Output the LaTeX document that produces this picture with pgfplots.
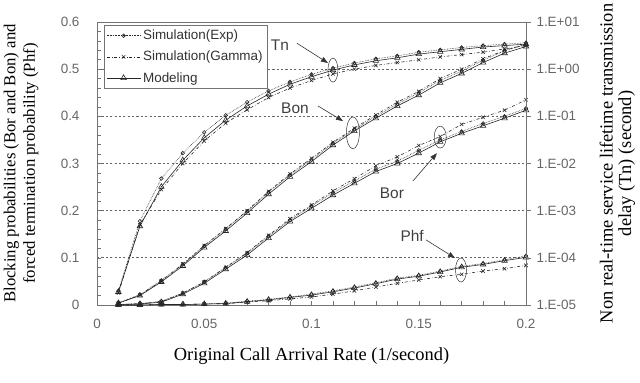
\documentclass[border=0pt]{standalone}
\usepackage{fontspec}
\setmainfont{Liberation Serif}
\newfontfamily\sans{Liberation Sans}
\usepackage{pgfplots}
\usepackage{pgfplotstable}
\pgfplotsset{compat=1.18}
\usetikzlibrary{arrows.meta}
\definecolor{axisgray}{gray}{0.45}
\definecolor{tickgray}{gray}{0.40}
\definecolor{gridgray}{gray}{0.40}

\pgfplotstableread{
x Mod Exp Gam
0.01 0.004 0.005 0.004
0.02 0.020 0.022 0.021
0.03 0.049 0.052 0.051
0.04 0.083 0.086 0.087
0.05 0.122 0.125 0.126
0.06 0.157 0.161 0.162
0.07 0.195 0.199 0.200
0.08 0.235 0.239 0.241
0.09 0.272 0.276 0.278
0.10 0.304 0.308 0.311
0.11 0.339 0.343 0.345
0.12 0.369 0.372 0.375
0.13 0.396 0.400 0.403
0.14 0.422 0.426 0.430
0.15 0.445 0.450 0.453
0.16 0.471 0.476 0.480
0.17 0.491 0.496 0.500
0.18 0.514 0.519 0.522
0.19 0.534 0.539 0.540
0.20 0.548 0.553 0.552
}\bon

\pgfplotstableread{
x Mod Exp Gam
0.01 0.001 0.001 0.001
0.02 0.002 0.003 0.003
0.03 0.006 0.008 0.007
0.04 0.023 0.025 0.025
0.05 0.046 0.049 0.049
0.06 0.076 0.079 0.080
0.07 0.106 0.110 0.111
0.08 0.142 0.146 0.148
0.09 0.177 0.180 0.183
0.10 0.205 0.210 0.212
0.11 0.233 0.238 0.242
0.12 0.258 0.263 0.268
0.13 0.283 0.288 0.295
0.14 0.300 0.305 0.314
0.15 0.322 0.328 0.338
0.16 0.346 0.350 0.357
0.17 0.364 0.368 0.383
0.18 0.380 0.385 0.398
0.19 0.396 0.400 0.413
0.20 0.413 0.417 0.435
}\bor

\pgfplotstableread{
x Mod Exp Gam
0.01 0.000 0.000 0.000
0.02 0.000 0.000 0.000
0.03 0.001 0.001 0.001
0.04 0.001 0.001 0.001
0.05 0.002 0.002 0.002
0.06 0.003 0.004 0.003
0.07 0.007 0.008 0.006
0.08 0.011 0.012 0.009
0.09 0.016 0.017 0.013
0.10 0.021 0.023 0.017
0.11 0.028 0.030 0.023
0.12 0.036 0.038 0.030
0.13 0.045 0.047 0.038
0.14 0.055 0.057 0.046
0.15 0.061 0.063 0.053
0.16 0.070 0.072 0.060
0.17 0.080 0.082 0.065
0.18 0.086 0.088 0.072
0.19 0.094 0.096 0.077
0.20 0.101 0.104 0.084
}\phf

\pgfplotstableread{
x Mod Exp Gam
0.01 1.9e-5 2.0e-5 1.8e-5
0.02 4.7e-4 6.0e-4 5.0e-4
0.03 3.2e-3 4.8e-3 2.8e-3
0.04 1.17e-2 1.66e-2 1.0e-2
0.05 3.5e-2 4.6e-2 3.0e-2
0.06 8.3e-2 0.105 7.2e-2
0.07 0.166 0.200 0.138
0.08 0.295 0.347 0.251
0.09 0.479 0.537 0.398
0.10 0.692 0.776 0.575
0.11 0.955 1.05 0.794
0.12 1.23 1.35 1.00
0.13 1.51 1.66 1.20
0.14 1.74 1.91 1.38
0.15 2.09 2.29 1.58
0.16 2.34 2.57 1.82
0.17 2.63 2.88 2.04
0.18 2.95 3.16 2.29
0.19 3.16 3.39 2.69
0.20 3.39 3.63 3.16
}\tn

\pgfplotsset{
  expstyle/.style={black!85, line width=0.6pt, densely dotted, mark=o, mark size=1.8bp, mark options={solid}},
  gamstyle/.style={black!85, line width=0.6pt, dash dot, mark=x, mark size=2.4bp, mark options={solid}},
  modstyle/.style={black!85, line width=0.6pt, solid, mark=triangle, mark size=3.2bp, mark options={solid}},
}

\begin{document}
\begin{tikzpicture}
\begin{axis}[
  at={(0,0)}, anchor=south west,
  scale only axis, width=429bp, height=283bp,
  xmin=0, xmax=0.2, ymin=0, ymax=0.6,
  xtick={0,0.05,0.1,0.15,0.2},
  ytick={0,0.1,0.2,0.3,0.4,0.5,0.6},
  minor x tick num=4, minor y tick num=4,
  xtick pos=bottom, ytick pos=left,
  tick align=inside,
  major tick length=4bp, minor tick length=4bp,
  every tick/.style={axisgray, line width=0.5pt},
  axis line style={axisgray, line width=0.8pt},
  /pgf/number format/assume math mode=true,
  /pgf/number format/fixed, /pgf/number format/precision=2,
  tick label style={font=\sans\fontsize{13.5}{15}\selectfont, text=tickgray},
  xticklabel style={yshift=-11bp},
  yticklabel style={xshift=-14bp},
  ymajorgrids,
  grid style={gridgray, line width=0.7pt, dash pattern=on 2.2pt off 2.2pt},
  xlabel={Original Call Arrival Rate (1/second)},
  xlabel style={font=\fontsize{18.5}{20}\selectfont, at={(axis description cs:0.5,-0.18)}, anchor=center},
  ylabel={Blocking probabilities (Bor and Bon) and\\forced termination probability (Phf)},
  ylabel style={font=\fontsize{16.8}{19.5}\selectfont, align=center, at={(axis description cs:-0.177,0.5)}, anchor=center},
  legend style={at={(axis description cs:0.0163,0.989)}, anchor=north west,
    draw=axisgray, line width=0.6pt, font=\sans\fontsize{13.5}{15}\selectfont,
    text=black!80, inner xsep=2bp, inner ysep=2.5bp, row sep=5.5bp,
    nodes={inner sep=2.2bp}},
  legend cell align=left,
  legend image code/.code={\draw[mark repeat=2, mark phase=2] plot coordinates {(0bp,0bp) (17bp,0bp) (34bp,0bp)};},
  clip=false,
]
\addplot[expstyle] table[x=x, y=Exp] {\bon};
\addlegendentry{Simulation(Exp)}
\addplot[gamstyle] table[x=x, y=Gam] {\bon};
\addlegendentry{Simulation(Gamma)}
\addplot[modstyle] table[x=x, y=Mod] {\bon};
\addlegendentry{Modeling}
\addplot[expstyle, forget plot] table[x=x, y=Exp] {\bor};
\addplot[gamstyle, forget plot] table[x=x, y=Gam] {\bor};
\addplot[modstyle, forget plot] table[x=x, y=Mod] {\bor};
\addplot[expstyle, forget plot] table[x=x, y=Exp] {\phf};
\addplot[gamstyle, forget plot] table[x=x, y=Gam] {\phf};
\addplot[modstyle, forget plot] table[x=x, y=Mod] {\phf};

% annotations
\node[font=\sans\fontsize{15.5}{16}\selectfont, text=black!75] at (axis cs:0.0853,0.551) {Tn};
\draw[black!80, line width=0.6pt, -{Triangle[length=7bp,width=5bp]}] (axis cs:0.0932,0.555) -- (axis cs:0.1077,0.513);
\draw[black!80, line width=0.5pt] (axis cs:0.11,0.498) ellipse [x radius=5bp, y radius=12bp];

\node[font=\sans\fontsize{15.5}{16}\selectfont, text=black!75] at (axis cs:0.0923,0.418) {Bon};
\draw[black!80, line width=0.6pt, -{Triangle[length=7bp,width=5bp]}] (axis cs:0.103,0.422) -- (axis cs:0.1147,0.39);
\draw[black!80, line width=0.5pt] (axis cs:0.1193,0.365) ellipse [x radius=6.5bp, y radius=16bp];

\node[font=\sans\fontsize{15.5}{16}\selectfont, text=black!75] at (axis cs:0.1375,0.237) {Bor};
\draw[black!80, line width=0.6pt, -{Triangle[length=7bp,width=5bp]}] (axis cs:0.1473,0.263) -- (axis cs:0.1585,0.322);
\draw[black!80, line width=0.5pt] (axis cs:0.16,0.356) ellipse [x radius=6bp, y radius=11bp];

\node[font=\sans\fontsize{15.5}{16}\selectfont, text=black!75] at (axis cs:0.1469,0.146) {Phf};
\draw[black!80, line width=0.6pt, -{Triangle[length=7bp,width=5bp]}] (axis cs:0.1534,0.138) -- (axis cs:0.1669,0.0996);
\draw[black!80, line width=0.5pt] (axis cs:0.1697,0.0742) ellipse [x radius=5.5bp, y radius=12bp];
\end{axis}

\begin{axis}[
  at={(0,0)}, anchor=south west,
  scale only axis, width=429bp, height=283bp,
  xmin=0, xmax=0.2,
  ymode=log, ymin=1e-5, ymax=10,
  ytick={1e-5,1e-4,1e-3,1e-2,1e-1,1,10},
  yticklabels={1.E-05,1.E-04,1.E-03,1.E-02,1.E-01,1.E+00,1.E+01},
  yminorticks=false,
  xtick=\empty,
  axis x line=none,
  axis y line*=right,
  ytick pos=right, yticklabel pos=right,
  tick align=outside,
  major tick length=5bp,
  every tick/.style={axisgray, line width=0.5pt},
  axis line style={axisgray, line width=0.8pt, -},
  tick label style={font=\sans\fontsize{13.5}{15}\selectfont, text=tickgray},
  yticklabel style={xshift=2bp},
  ylabel={Non real-time service lifetime transmission\\delay (Tn) (second)},
  ylabel style={font=\fontsize{18.5}{18.5}\selectfont, align=center, at={(axis description cs:1.213,0.5)}, anchor=center, rotate=0},
]
\addplot[expstyle] table[x=x, y=Exp] {\tn};
\addplot[gamstyle] table[x=x, y=Gam] {\tn};
\addplot[modstyle] table[x=x, y=Mod] {\tn};
\end{axis}
\pgfresetboundingbox
\path[use as bounding box] (-97bp,-78bp) rectangle (543bp,305bp);
\end{tikzpicture}
\end{document}
